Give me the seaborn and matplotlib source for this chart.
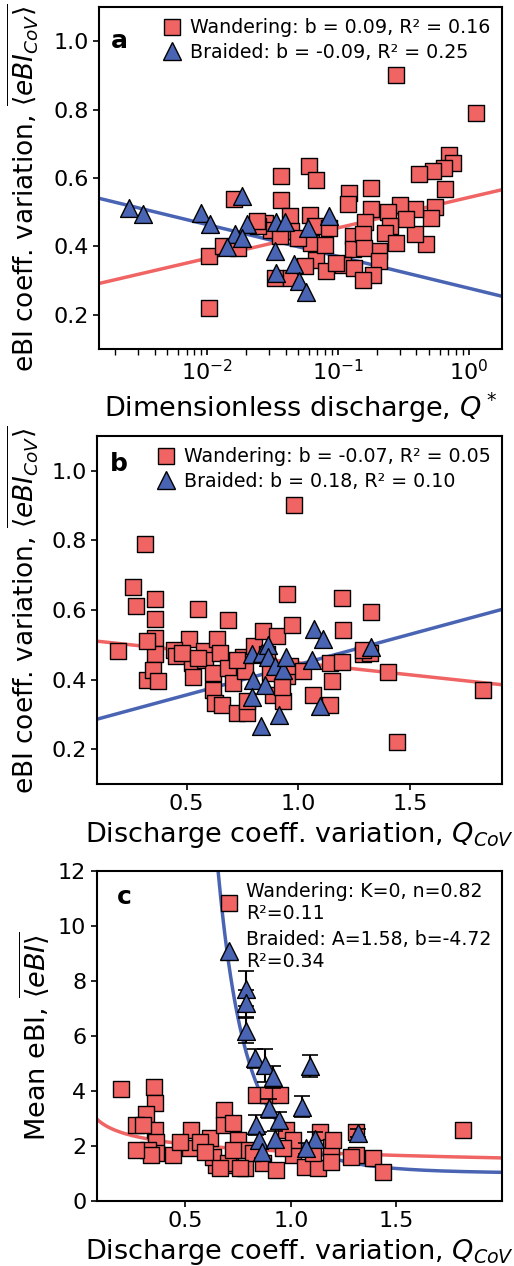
import numpy as np
import matplotlib
matplotlib.use('Agg')
import matplotlib.pyplot as plt
import seaborn as sns
from matplotlib.lines import Line2D

# ---------------- Panel a : dimensionless discharge vs eBI CoV ----------------
a_wand_q = [0.277, 1.14, 0.0103, 0.0103, 0.0134, 0.0174, 0.0162, 0.0372, 0.0372, 0.0603,
            0.0684, 0.0277, 0.0312, 0.0247, 0.0430, 0.0443, 0.0361, 0.0610, 0.0665, 0.0627,
            0.0684, 0.0497, 0.0865, 0.123, 0.119, 0.130, 0.130, 0.109, 0.134, 0.0330,
            0.0443, 0.0815, 0.713, 0.755, 0.646, 0.533, 0.417, 0.658, 0.179, 0.558,
            0.512, 0.474, 0.389, 0.389, 0.297, 0.330, 0.244, 0.249, 0.179, 0.162,
            0.155, 0.230, 0.277, 0.207, 0.160, 0.207, 0.185, 0.155, 0.097, 0.024,
            0.0558, 0.0793]
a_wand_y = [0.901, 0.790, 0.220, 0.371, 0.400, 0.396, 0.539, 0.606, 0.537, 0.635,
            0.594, 0.469, 0.449, 0.459, 0.489, 0.444, 0.430, 0.493, 0.459, 0.410,
            0.361, 0.425, 0.454, 0.557, 0.523, 0.430, 0.391, 0.347, 0.337, 0.308,
            0.308, 0.327, 0.667, 0.645, 0.630, 0.621, 0.611, 0.569, 0.572, 0.516,
            0.484, 0.408, 0.435, 0.510, 0.520, 0.481, 0.500, 0.459, 0.508, 0.471,
            0.435, 0.440, 0.410, 0.386, 0.396, 0.356, 0.317, 0.303, 0.352, 0.474,
            0.342, 0.405]
a_braid_q = [0.00254, 0.00327, 0.00906, 0.0106, 0.0187, 0.0201, 0.0164, 0.0187, 0.0142,
             0.034, 0.0394, 0.033, 0.034, 0.0464, 0.0506, 0.0574, 0.0591, 0.0855]
a_braid_y = [0.513, 0.495, 0.498, 0.466, 0.547, 0.466, 0.435, 0.425, 0.399,
             0.472, 0.472, 0.386, 0.322, 0.349, 0.298, 0.266, 0.454, 0.489]
# fitted lines y = c0 + c1*log10(Q*)
a_fit_wand = (0.543, 0.089)
a_fit_braid = (0.278, -0.093)
a_labels = ['Wandering: b = 0.09, R² = 0.16', 'Braided: b = -0.09, R² = 0.25']

# ---------------- Panel b : Q CoV vs eBI CoV ----------------
b_wand_x = [0.978, 0.313, 0.258, 0.272, 0.358, 0.358, 0.358, 0.358, 0.321, 0.194,
            0.321, 0.351, 0.373, 0.549, 0.687, 0.512, 0.443, 0.452, 0.522, 0.530,
            0.578, 0.582, 0.634, 0.649, 0.619, 0.619, 0.627, 0.657, 0.687, 0.706,
            0.724, 0.769, 0.769, 0.754, 0.761, 0.799, 0.843, 0.903, 0.951, 0.970,
            0.858, 0.873, 0.885, 0.933, 0.948, 0.963, 1.022, 1.067, 1.142, 1.142,
            1.149, 1.194, 1.199, 1.194, 1.291, 1.321, 1.325, 1.399, 1.443, 1.825,
            0.724, 0.478, 0.552, 0.925, 1.291]
b_wand_y = [0.902, 0.789, 0.666, 0.611, 0.630, 0.573, 0.520, 0.472, 0.510, 0.481,
            0.400, 0.428, 0.395, 0.604, 0.571, 0.517, 0.484, 0.467, 0.448, 0.407,
            0.481, 0.457, 0.515, 0.476, 0.419, 0.371, 0.332, 0.328, 0.433, 0.390,
            0.304, 0.304, 0.337, 0.465, 0.424, 0.496, 0.539, 0.526, 0.647, 0.558,
            0.472, 0.419, 0.356, 0.337, 0.409, 0.438, 0.424, 0.356, 0.328, 0.448,
            0.395, 0.635, 0.542, 0.450, 0.472, 0.476, 0.594, 0.422, 0.222, 0.371,
            0.457, 0.476, 0.462, 0.380, 0.486]
b_braid_x = [0.794, 0.836, 0.866, 0.866, 0.896, 0.933, 0.945, 1.060, 1.070, 1.112,
             1.324, 0.796, 0.851, 0.794, 0.915, 1.097, 0.833]
b_braid_y = [0.472, 0.476, 0.498, 0.465, 0.438, 0.427, 0.465, 0.455, 0.544, 0.515,
             0.494, 0.398, 0.385, 0.350, 0.299, 0.323, 0.267]
# fitted lines y = c0 + c1*Q_CoV
b_fit_wand = (0.517, -0.069)
b_fit_braid = (0.269, 0.174)
b_labels = ['Wandering: b = -0.07, R² = 0.05', 'Braided: b = 0.18, R² = 0.10']

# ---------------- Panel c : Q CoV vs mean eBI ----------------
c_wand_x = [1.816, 0.197, 0.351, 0.358, 0.315, 0.268, 0.355, 0.363, 0.363, 0.323,
            0.442, 0.528, 0.521, 0.615, 0.682, 0.682, 0.750, 0.647, 0.710, 0.781,
            0.836, 0.892, 0.947, 0.868, 0.931, 0.979, 1.010, 1.066, 1.129, 1.137,
            1.192, 1.192, 1.310, 1.310, 1.389, 1.437, 1.287, 0.631, 0.702, 0.797,
            0.568, 0.473, 0.299, 0.339, 0.268, 0.592, 0.726, 0.821, 0.758, 0.663,
            1.200, 1.105, 1.010, 0.726, 0.963]
c_wand_y = [2.58, 4.06, 4.15, 3.57, 3.18, 2.76, 2.58, 2.15, 1.73, 1.85,
            1.67, 2.58, 1.91, 2.28, 3.31, 2.76, 2.22, 1.31, 1.31, 1.19,
            3.85, 3.85, 3.85, 1.37, 1.13, 2.58, 1.67, 1.25, 1.19, 2.52,
            1.97, 1.43, 2.52, 1.67, 1.55, 1.07, 1.61, 1.61, 1.37, 1.85,
            2.15, 2.15, 2.76, 1.67, 1.85, 1.79, 1.85, 1.73, 1.19, 1.19,
            2.22, 1.73, 2.22, 2.82, 1.91]
c_braid_x = [0.789, 0.789, 0.789, 0.829, 0.879, 0.915, 1.092, 1.053, 0.895, 0.942,
             0.833, 0.849, 0.925, 1.116, 1.070, 0.863, 1.318]
c_braid_y = [7.72, 7.18, 6.19, 5.18, 4.94, 4.52, 4.90, 3.43, 3.37, 2.94,
             2.76, 2.22, 2.25, 2.25, 1.91, 1.77, 2.46]
c_braid_err = [0.65, 0.5, 0.45, 0.35, 0.6, 0.4, 0.4, 0.37, 0.35, 0.3,
               0.35, 0.3, 0.3, 0.25, 0.2, 0.2, 0.15]
# fitted curves: wandering y = k*x^m ; braided y = 1 + A*x^b
c_fit_wand = (1.80, -0.20)
c_fit_braid = (1.36, -4.95)
c_labels = ['Wandering: K=0, n=0.82\nR²=0.11', 'Braided: A=1.58, b=-4.72\nR²=0.34']

# ---------------- styling ----------------
sns.set_theme(style='ticks')
plt.rcParams['font.family'] = ['DejaVu Sans']
plt.rcParams.update({
    'axes.edgecolor': 'black', 'axes.linewidth': 1.5,
    'text.color': 'black',
    'xtick.color': 'black', 'ytick.color': 'black',
    'xtick.labelsize': 16, 'ytick.labelsize': 16,
    'axes.labelsize': 19.5, 'axes.labelcolor': 'black',
    'xtick.major.size': 4, 'ytick.major.size': 4,
    'xtick.major.width': 1.2, 'ytick.major.width': 1.2,
    'mathtext.fontset': 'dejavusans',
})

RED = '#F06464'
BLUE = '#4A64B4'
SQ_S = 130
TRI_S = 165

fig = plt.figure(figsize=(5.14, 12.66), dpi=100)
axa = fig.add_axes([0.1926, 0.7243, 0.784, 0.2702])
axb = fig.add_axes([0.1893, 0.3807, 0.787, 0.2751])
axc = fig.add_axes([0.1881, 0.0513, 0.788, 0.2609])

ylab_cov = r'eBI coeff. variation, $\overline{\langle eBI_{CoV}\rangle}$'
xlab_cov = r'Discharge coeff. variation, $Q_{CoV}$'


def handles():
    return [Line2D([], [], marker='s', ls='none', markersize=11.5, mfc=RED, mec='black', mew=1),
            Line2D([], [], marker='^', ls='none', markersize=12.5, mfc=BLUE, mec='black', mew=1)]


# ---- panel a
axa.set_xscale('log')
xa = (0.0015, 1.8)
qg = np.logspace(np.log10(xa[0]), np.log10(xa[1]), 200)
sns.lineplot(x=qg, y=a_fit_wand[0] + a_fit_wand[1] * np.log10(qg), color=RED, lw=2.5, ax=axa, zorder=1)
sns.lineplot(x=qg, y=a_fit_braid[0] + a_fit_braid[1] * np.log10(qg), color=BLUE, lw=2.5, ax=axa, zorder=1)
sns.scatterplot(x=a_wand_q, y=a_wand_y, marker='s', s=SQ_S, color=RED, edgecolor='black', linewidth=1, ax=axa, zorder=3)
sns.scatterplot(x=a_braid_q, y=a_braid_y, marker='^', s=TRI_S, color=BLUE, edgecolor='black', linewidth=1, ax=axa, zorder=4)
axa.set_xlim(*xa)
axa.set_ylim(0.1, 1.1)
axa.set_yticks([0.2, 0.4, 0.6, 0.8, 1.0])
axa.set_xlabel(r'Dimensionless discharge, $Q^*$')
axa.set_ylabel(ylab_cov, fontsize=19)
axa.yaxis.set_label_coords(-0.145, 0.47)
axa.legend(handles(), a_labels, loc='upper right', frameon=False, fontsize=13.7,
           handletextpad=0.35, borderaxespad=0.2, labelspacing=0.3, handlelength=1.2)
axa.text(0.03, 0.90, 'a', transform=axa.transAxes, fontsize=18, fontweight='bold', va='center')

# ---- panel b
xb = (0.1, 1.91)
xg = np.linspace(xb[0], xb[1], 100)
sns.lineplot(x=xg, y=b_fit_wand[0] + b_fit_wand[1] * xg, color=RED, lw=2.5, ax=axb, zorder=1)
sns.lineplot(x=xg, y=b_fit_braid[0] + b_fit_braid[1] * xg, color=BLUE, lw=2.5, ax=axb, zorder=1)
sns.scatterplot(x=b_wand_x, y=b_wand_y, marker='s', s=SQ_S, color=RED, edgecolor='black', linewidth=1, ax=axb, zorder=3)
sns.scatterplot(x=b_braid_x, y=b_braid_y, marker='^', s=TRI_S, color=BLUE, edgecolor='black', linewidth=1, ax=axb, zorder=4)
axb.set_xlim(*xb)
axb.set_ylim(0.1, 1.1)
axb.set_xticks([0.5, 1.0, 1.5])
axb.set_yticks([0.2, 0.4, 0.6, 0.8, 1.0])
axb.set_xlabel(xlab_cov)
axb.set_ylabel(ylab_cov, fontsize=19)
axb.yaxis.set_label_coords(-0.14, 0.5)
axb.legend(handles(), b_labels, loc='upper right', frameon=False, fontsize=13.7,
           handletextpad=0.35, borderaxespad=0.2, labelspacing=0.3, handlelength=1.2)
axb.text(0.03, 0.92, 'b', transform=axb.transAxes, fontsize=18, fontweight='bold', va='center')

# ---- panel c
xc = (0.08, 2.0)
xg = np.linspace(xc[0], xc[1], 400)
sns.lineplot(x=xg, y=c_fit_wand[0] * xg ** c_fit_wand[1], color=RED, lw=2.5, ax=axc, zorder=1)
sns.lineplot(x=xg, y=1 + c_fit_braid[0] * xg ** c_fit_braid[1], color=BLUE, lw=2.5, ax=axc, zorder=1)
sns.scatterplot(x=c_wand_x, y=c_wand_y, marker='s', s=SQ_S, color=RED, edgecolor='black', linewidth=1, ax=axc, zorder=3)
axc.errorbar(c_braid_x, c_braid_y, yerr=c_braid_err, fmt='none', ecolor='black', elinewidth=1.5,
             capsize=6, capthick=1.2, zorder=4)
sns.scatterplot(x=c_braid_x, y=c_braid_y, marker='^', s=TRI_S, color=BLUE, edgecolor='black', linewidth=1, ax=axc, zorder=5)
axc.set_xlim(*xc)
axc.set_ylim(0, 12)
axc.set_xticks([0.5, 1.0, 1.5])
axc.set_yticks([0, 2, 4, 6, 8, 10, 12])
axc.set_xlabel(xlab_cov)
axc.set_ylabel(r'Mean eBI, $\overline{\langle eBI\rangle}$')
axc.legend(handles(), c_labels, loc='upper left', bbox_to_anchor=(0.27, 1.0), frameon=False, fontsize=13.6,
           handletextpad=0.3, borderaxespad=0.2, labelspacing=0.35, handlelength=1.2)
axc.text(0.05, 0.92, 'c', transform=axc.transAxes, fontsize=18, fontweight='bold', va='center')

for ax in (axa, axb, axc):
    for s in ax.spines.values():
        s.set_visible(True)
        s.set_color('black')

fig.savefig('out.png', dpi=100)
